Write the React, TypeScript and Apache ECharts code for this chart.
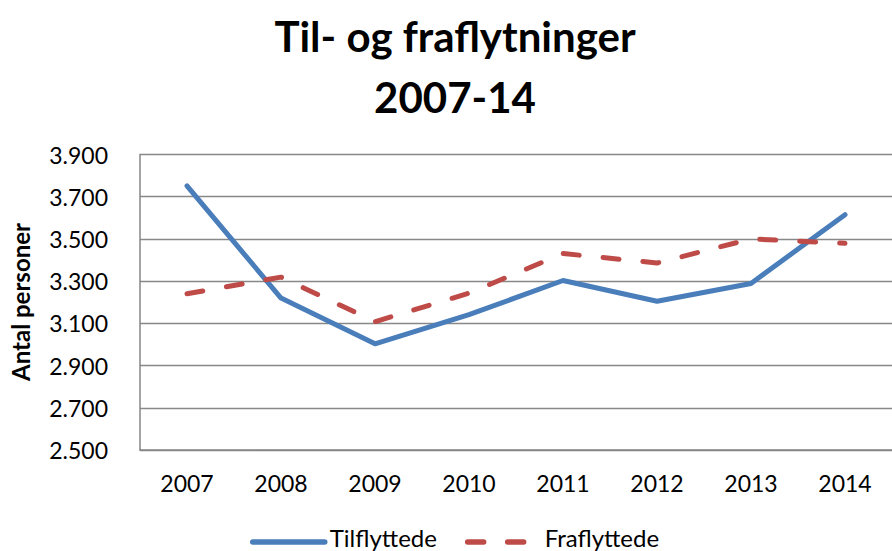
import React, { useEffect, useRef } from "react";
import * as echarts from "echarts";

const years = ["2007", "2008", "2009", "2010", "2011", "2012", "2013", "2014"];
const tilflyttede = [3751, 3220, 3003, 3141, 3303, 3205, 3289, 3615];
const fraflyttede = [3240, 3319, 3108, 3243, 3431, 3386, 3500, 3479];
const yTicks = { min: 2500, max: 3900, interval: 200 };

const FONT = "Lato, 'Open Sans', sans-serif";

export default function App() {
  const ref = useRef<HTMLDivElement>(null);
  useEffect(() => {
    if (!ref.current) return;
    const chart = echarts.init(ref.current, undefined, { renderer: "svg" });
    chart.setOption({
      animation: false,
      backgroundColor: "#ffffff",
      title: {
        text: "Til- og fraflytninger\n2007-14",
        left: 450,
        textAlign: "center",
        top: 0,
        textStyle: {
          fontFamily: FONT,
          fontWeight: "bold",
          fontSize: 42,
          lineHeight: 61,
          color: "#000",
        },
      },
      graphic: [
        {
          type: "text",
          x: 20,
          y: 302,
          rotation: Math.PI / 2,
          style: {
            text: "Antal personer",
            align: "center",
            verticalAlign: "middle",
            fontFamily: FONT,
            fontWeight: "bold",
            fontSize: 24,
            fill: "#000",
          },
        },
      ],
      legend: {
        left: 245,
        top: 520,
        itemWidth: 72,
        itemHeight: 14,
        itemGap: 28,
        itemStyle: { opacity: 0 },
        lineStyle: { width: 5.5 },
        formatter: (name: string) => `{t|${name}}`,
        textStyle: {
          fontFamily: FONT,
          fontSize: 24,
          color: "#000",
          rich: {
            t: { fontFamily: FONT, fontSize: 24, lineHeight: 26, color: "#000", padding: [0, 0, 10, 0] },
          },
        },
        data: ["Tilflyttede", "Fraflyttede"],
      },
      grid: { left: 140, top: 154.5, width: 761, height: 295.5 },
      xAxis: {
        type: "category",
        data: years,
        boundaryGap: true,
        axisLine: { lineStyle: { color: "#868686", width: 1.5 } },
        axisTick: { alignWithLabel: true, inside: true, length: 6, lineStyle: { color: "#868686", width: 1.3 } },
        axisLabel: { fontFamily: FONT, fontSize: 23, color: "#000", margin: 21 },
        splitLine: { show: false },
      },
      yAxis: {
        type: "value",
        min: yTicks.min,
        max: yTicks.max,
        interval: yTicks.interval,
        axisLine: { show: true, lineStyle: { color: "#868686", width: 1.5 } },
        axisTick: { show: false },
        axisLabel: {
          fontFamily: FONT,
          fontSize: 23,
          color: "#000",
          margin: 32,
          formatter: (v: number) => {
            const s = String(Math.round(v));
            return s.slice(0, s.length - 3) + "." + s.slice(-3);
          },
        },
        splitLine: { lineStyle: { color: "#888888", width: 1.3 } },
      },
      series: [
        {
          name: "Tilflyttede",
          type: "line",
          data: tilflyttede,
          symbol: "none",
          color: "#4a7ebb",
          lineStyle: { color: "#4a7ebb", width: 5, join: "round", cap: "round" },
        },
        {
          name: "Fraflyttede",
          type: "line",
          data: fraflyttede,
          symbol: "none",
          color: "#be4b48",
          lineStyle: { color: "#be4b48", width: 5, type: [16, 24], cap: "round", join: "round" },
        },
      ],
    });
    return () => chart.dispose();
  }, []);
  return (
    <div
      ref={ref}
      style={{ position: "fixed", left: 0, top: 0, width: 892, height: 551, overflow: "hidden" }}
    />
  );
}
